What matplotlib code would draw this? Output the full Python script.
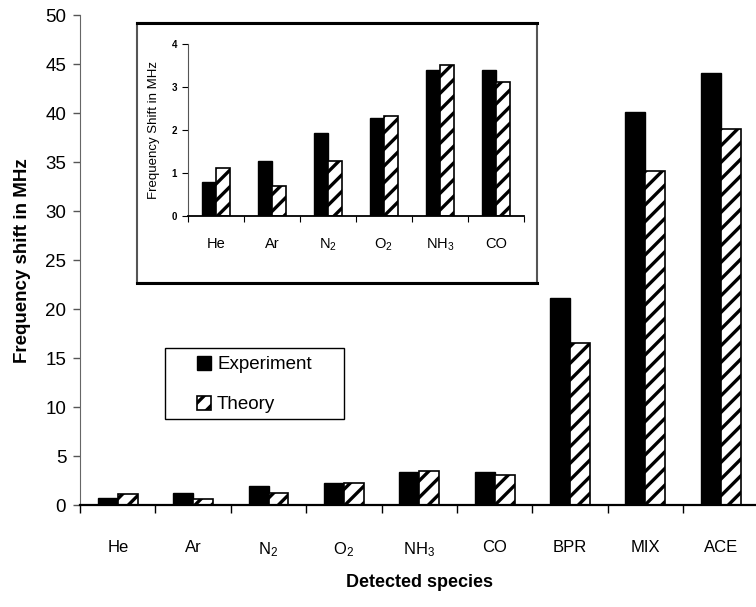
import numpy as np
import matplotlib.pyplot as plt
from matplotlib.patches import Rectangle
from matplotlib.lines import Line2D

plt.rcParams['font.family'] = ['Liberation Sans', 'DejaVu Sans']
plt.rcParams['mathtext.fontset'] = 'custom'
plt.rcParams['mathtext.rm'] = 'Liberation Sans'
plt.rcParams['mathtext.it'] = 'Liberation Sans'
plt.rcParams['mathtext.default'] = 'regular'
plt.rcParams['hatch.linewidth'] = 2.4

# data
species = ['He', 'Ar', 'N$_2$', 'O$_2$', 'NH$_3$', 'CO', 'BPR', 'MIX', 'ACE']
experiment = [0.78, 1.27, 1.93, 2.27, 3.4, 3.4, 21.2, 40.1, 44.1]
theory = [1.12, 0.68, 1.27, 2.32, 3.52, 3.12, 16.6, 34.1, 38.4]

n_inset = 6

fig = plt.figure(figsize=(7.56, 6.07), dpi=100)
ax = fig.add_axes([0.106, 0.1675, 0.897, 0.807])

x = np.arange(len(species))
w = 0.265
ax.bar(x - w/2, experiment, w, color='black', edgecolor='black', label='Experiment')
ax.bar(x + w/2, theory, w, color='white', edgecolor='black', hatch='//', linewidth=1.2, label='Theory')

ax.set_xlim(-0.5, len(species) - 0.5)
ax.set_ylim(0, 50)
ax.set_yticks(range(0, 51, 5))
ax.set_xticks(x)
ax.set_xticklabels(species, fontsize=12)
ax.set_xticks(np.arange(-0.5, len(species), 1), minor=True)
ax.tick_params(axis='x', which='major', length=0, pad=25)
ax.tick_params(axis='x', which='minor', length=6, width=1, color='black', direction='out')
ax.tick_params(axis='y', labelsize=13.5, length=5, width=1, color='#555555', direction='out', pad=5)
for s in ['top', 'right']:
    ax.spines[s].set_visible(False)
ax.spines['left'].set_color('#666666')
ax.spines['bottom'].set_linewidth(1.6)
ax.set_xlabel('Detected species', fontsize=13, fontweight='bold', labelpad=11)
ax.set_ylabel('Frequency shift in MHz', fontsize=13.5, fontweight='bold', labelpad=10)

# legend with its own frame
fig.patches.append(Rectangle((0.2183, 0.3097), 0.2368, 0.117, transform=fig.transFigure,
                             facecolor='white', edgecolor='black', linewidth=1.0, zorder=2))
handles, labels = ax.get_legend_handles_labels()
leg = fig.legend(handles, labels, loc='center', bbox_to_anchor=(0.3366, 0.3665),
                 fontsize=13.5, frameon=False,
                 handlelength=0.75, handleheight=0.75, handletextpad=0.3,
                 labelspacing=1.2)
leg.set_zorder(5)

# inset frame
fig.patches.append(Rectangle((0.1808, 0.5333), 0.529, 0.4293, transform=fig.transFigure,
                             facecolor='white', edgecolor='#555555', linewidth=1.5, zorder=2))
for yy in [0.5333, 0.9626]:
    fig.add_artist(Line2D([0.1808, 0.7098], [yy, yy], transform=fig.transFigure,
                          color='black', linewidth=2.2, zorder=2.5))

ins = fig.add_axes([0.2487, 0.6447, 0.444, 0.2828], zorder=3)
xi = np.arange(n_inset)
wi = 0.25
ins.bar(xi - wi/2, experiment[:n_inset], wi, color='black', edgecolor='black')
ins.bar(xi + wi/2, theory[:n_inset], wi, color='white', edgecolor='black', hatch='//', linewidth=1.2)
ins.set_xlim(-0.5, n_inset - 0.5)
ins.set_ylim(0, 4)
ins.set_yticks(range(0, 5))
ins.set_xticks(xi)
ins.set_xticklabels(species[:n_inset], fontsize=10.5)
ins.set_xticks(np.arange(-0.5, n_inset, 1), minor=True)
ins.tick_params(axis='x', which='major', length=0, pad=15)
ins.tick_params(axis='x', which='minor', length=4, width=0.8, direction='out')
ins.tick_params(axis='y', labelsize=7, length=4, width=0.8, direction='out', pad=4)
for lab in ins.get_yticklabels():
    lab.set_fontweight('bold')
for s in ['top', 'right']:
    ins.spines[s].set_visible(False)
ins.spines['left'].set_color('#555555')
ins.spines['bottom'].set_linewidth(1.3)
ins.set_ylabel('Frequency Shift in MHz', fontsize=9.5, labelpad=8)
ins.patch.set_alpha(0)

fig.savefig('out.png', dpi=100)
